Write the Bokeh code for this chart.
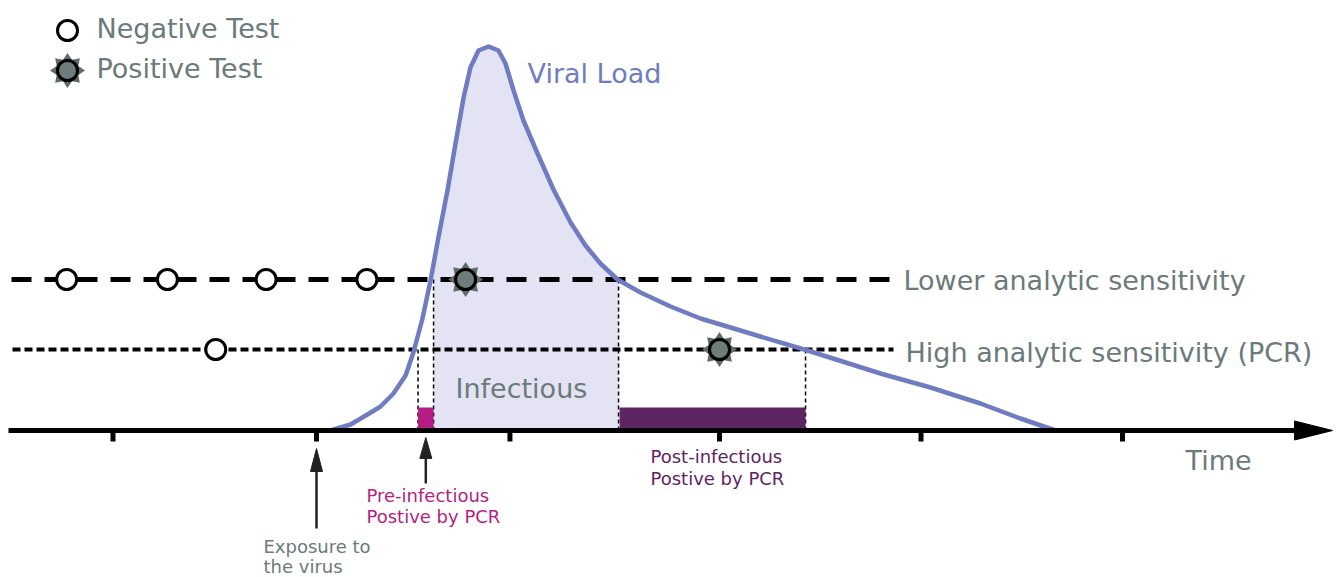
import numpy as np
from bokeh.plotting import figure
from bokeh.models import Range1d, Label
from bokeh.embed import file_html
from bokeh.resources import INLINE

# ---------------- data ----------------
# time: 1 unit = one tick spacing, 0 = exposure; viral load: arbitrary units
curve_t = [0.069, 0.169, 0.253, 0.318, 0.382, 0.442, 0.481, 0.526, 0.566, 0.605,
           0.650, 0.690, 0.730, 0.764, 0.804, 0.854, 0.903, 0.938, 0.978, 1.027,
           1.097, 1.176, 1.261, 1.335, 1.409, 1.494, 1.608, 1.757, 1.906, 2.203,
           2.437, 2.799, 3.047, 3.295, 3.494, 3.667]
curve_v = [0.00, 0.12, 0.32, 0.48, 0.74, 1.10, 1.56, 2.24, 3.00, 3.86,
           4.80, 5.74, 6.66, 7.26, 7.60, 7.68, 7.60, 7.34, 6.80, 6.20,
           5.54, 4.82, 4.16, 3.70, 3.34, 3.02, 2.76, 2.48, 2.24, 1.88,
           1.60, 1.14, 0.86, 0.54, 0.24, 0.00]
tick_t = [-1.01, 0.0, 0.96, 2.0, 3.0, 4.0]
exposure_t = 0.0
low_sens_level = 3.02
high_sens_level = 1.62
low_neg_t = [-1.24, -0.74, -0.25, 0.25]
low_pos_t = [0.74]
high_neg_t = [-0.50]
high_pos_t = [2.0]
pre_inf = [0.504, 0.581]
infectious = [0.581, 1.499]
post_inf = [1.504, 2.427]

# ---------------- layout helpers ----------------
W, H = 1343, 577
PX_T, T0_PX, PX_V, V0_PX = 201.5, 316.0, 50.0, 430.0
def tx(px):
    return (px - T0_PX) / PX_T
def vy(py):
    return (V0_PX - py) / PX_V
def dt(px):
    return px / PX_T
def dv(px):
    return px / PX_V

FONT = "DejaVu Sans"
GRAY = "#6b7a7a"
MAGENTA = "#b51d84"
PURPLE = "#5f2464"
BLUE = "#6f7cc1"
FILL = "#e3e3f3"

p = figure(width=W, height=H, x_range=Range1d(tx(0), tx(W)),
           y_range=Range1d(vy(H), vy(0)), output_backend="svg",
           toolbar_location=None, x_axis_type=None, y_axis_type=None,
           min_border=0)
p.grid.visible = False
p.outline_line_color = None
p.background_fill_color = "white"

# infectious shaded area under the curve
ct = np.array(curve_t)
cv = np.array(curve_v)
mask = (ct > infectious[0]) & (ct < infectious[1])
fx = np.concatenate([[infectious[0]], ct[mask], [infectious[1]]])
fy = np.concatenate([[np.interp(infectious[0], ct, cv)], cv[mask],
                     [np.interp(infectious[1], ct, cv)]])
p.varea(x=fx, y1=0, y2=fy, fill_color=FILL)

# thin vertical dashed guides
gx = [pre_inf[0], infectious[0], infectious[1], post_inf[1]]
gy = [high_sens_level, low_sens_level, low_sens_level, high_sens_level]
p.segment(x0=gx, y0=[0] * 4, x1=gx, y1=gy, line_color="black",
          line_width=1.5, line_dash="4 3")

# bars
bar_h = dv(23)
p.quad(left=[pre_inf[0]], right=[pre_inf[1]], bottom=[0], top=[bar_h],
       fill_color=MAGENTA, line_color=None)
p.quad(left=[post_inf[0]], right=[post_inf[1]], bottom=[0], top=[bar_h],
       fill_color=PURPLE, line_color=None)

# sensitivity lines
p.line([tx(11), tx(893)], [low_sens_level] * 2, line_color="black",
       line_width=5, line_dash="20 13")
p.line([tx(12), tx(893)], [high_sens_level] * 2, line_color="black",
       line_width=4, line_dash="8 4")

# viral load curve
p.line(curve_t, curve_v, line_color=BLUE, line_width=4.5, line_join="round",
       line_cap="round")

# time axis
p.line([tx(8), tx(1300)], [0, 0], line_color="black", line_width=5)
p.patch([tx(1294), tx(1332), tx(1294)], [dv(9.5), 0, -dv(9.5)], color="black")
p.segment(x0=tick_t, y0=[0] * len(tick_t), x1=tick_t,
          y1=[vy(441)] * len(tick_t), line_color="black", line_width=5)

# small arrows
def up_arrow(x, tip_py, base_py, tail_py):
    p.segment(x0=[x], y0=[vy(tail_py)], x1=[x], y1=[vy(base_py - 2)],
              line_color="#222222", line_width=2.5)
    p.patch([x - dt(6), x, x + dt(6)], [vy(base_py), vy(tip_py), vy(base_py)],
            color="#222222")

up_arrow(exposure_t, 448, 471, 528)
up_arrow((pre_inf[0] + pre_inf[1]) / 2, 437, 458, 483)

# test markers
def neg_marker(xs, ys):
    p.scatter(xs, ys, size=20, fill_color="white", line_color="black",
              line_width=3)

def pos_marker(xs, ys):
    for a in [0, np.pi / 4, np.pi / 2, 3 * np.pi / 4]:
        p.scatter(xs, ys, marker="diamond", size=35, angle=a,
                  fill_color="#5d6b6b", line_color=None)
    p.scatter(xs, ys, size=20, fill_color="#6e7c7c", line_color="black",
              line_width=3)

neg_marker(low_neg_t, [low_sens_level] * len(low_neg_t))
neg_marker(high_neg_t, [high_sens_level] * len(high_neg_t))
pos_marker(low_pos_t, [low_sens_level] * len(low_pos_t))
pos_marker(high_pos_t, [high_sens_level] * len(high_pos_t))

# legend
neg_marker([tx(67)], [vy(30)])
pos_marker([tx(67)], [vy(70)])

def label(px, baseline_py, text, size, color):
    # renderer places text slightly below the given anchor: compensate
    py = baseline_py - 0.365 * size
    p.add_layout(Label(x=tx(px), y=vy(py), text=text, text_font=FONT,
                       text_font_size=f"{size}px", text_color=color,
                       text_baseline="alphabetic", text_align="left"))

label(96, 38, "Negative Test", 27, GRAY)
label(96, 78, "Positive Test", 27, GRAY)
label(527, 83, "Viral Load", 27, BLUE)
label(903, 290, "Lower analytic sensitivity", 27, GRAY)
label(905, 362, "High analytic sensitivity (PCR)", 27, GRAY)
label(455, 398, "Infectious", 27, GRAY)
label(1185, 470, "Time", 27, GRAY)
label(366, 502, "Pre-infectious", 18, MAGENTA)
label(366, 523, "Postive by PCR", 18, MAGENTA)
label(650, 463, "Post-infectious", 18, PURPLE)
label(650, 485, "Postive by PCR", 18, PURPLE)
label(263, 553, "Exposure to", 18, GRAY)
label(263, 573, "the virus", 18, GRAY)

open("out.html", "w").write(file_html(p, INLINE))
